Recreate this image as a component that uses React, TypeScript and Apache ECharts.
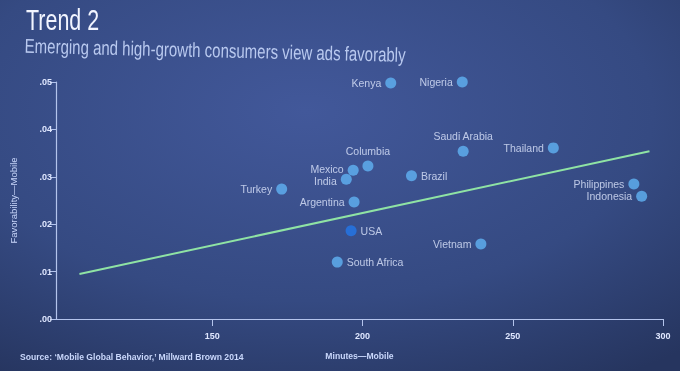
import React, { useEffect, useRef } from "react";
import * as echarts from "echarts";

const countries = ["Kenya", "Nigeria", "Saudi Arabia", "Thailand", "Columbia", "Mexico", "India", "Brazil", "Turkey", "Argentina", "USA", "South Africa", "Vietnam", "Philippines", "Indonesia"];
const minutes = [209.4, 233.2, 233.5, 263.5, 201.8, 196.9, 194.6, 216.3, 173.1, 197.2, 196.2, 191.6, 239.4, 290.3, 292.9];
const favorability = [0.0498, 0.05, 0.0354, 0.0361, 0.0323, 0.0314, 0.0295, 0.0302, 0.0274, 0.0247, 0.0186, 0.012, 0.0158, 0.0285, 0.0259];
const trendMinutes = [105.8, 295.5];
const trendFavorability = [0.0095, 0.0354];
const xTickValues = [150, 200, 250, 300];
const yTickLabels = [".00", ".01", ".02", ".03", ".04", ".05"];

const labelSide: Record<string, string> = {
  "Saudi Arabia": "top",
  Columbia: "top",
  Brazil: "right",
  USA: "right",
  "South Africa": "right",
};
const labelNudge: Record<string, number[]> = {
  Mexico: [0, -1.5],
  India: [0, 1.5],
};

const FONT = "'Liberation Sans', Arial, Helvetica, sans-serif";

export default function App() {
  const ref = useRef<HTMLDivElement>(null);
  useEffect(() => {
    document.body.style.margin = "0";
    const chart = echarts.init(ref.current!, null, { renderer: "svg" });
    const points = countries.map((name, i) => ({
      name,
      value: [minutes[i], favorability[i]],
      itemStyle: { color: name === "USA" ? "#2377ea" : "#60b3f4" },
      label: { position: labelSide[name] || "left", offset: labelNudge[name] || [0, 0] },
    }));
    chart.setOption({
      animation: false,
      backgroundColor: {
        type: "radial",
        x: 0.45,
        y: 0.3,
        r: 0.85,
        colorStops: [
          { offset: 0, color: "#42589a" },
          { offset: 0.6, color: "#354a82" },
          { offset: 1, color: "#26355f" },
        ],
      },
      textStyle: { fontFamily: FONT },
      graphic: [
        {
          type: "text",
          left: 26,
          top: 5,
          scaleX: 0.74,
          style: { text: "Trend 2", fill: "#f2f5ff", font: `29px ${FONT}` },
        },
        {
          type: "text",
          x: 25,
          y: 36,
          rotation: -0.024,
          scaleX: 0.75,
          style: { text: "Emerging and high-growth consumers view ads favorably", fill: "#b9c9ef", font: `20px ${FONT}` },
        },
        {
          type: "text",
          left: 20,
          top: 352,
          style: { text: "Source: \u2018Mobile Global Behavior,\u2019 Millward Brown 2014", fill: "#c9d7fb", font: `bold 8.6px ${FONT}` },
        },
      ],
      grid: { left: 51, right: 17, top: 82, bottom: 52 },
      xAxis: {
        type: "value",
        min: 98,
        max: 300,
        name: "Minutes\u2014Mobile",
        nameLocation: "middle",
        nameGap: 32,
        nameTextStyle: { color: "#c9d7fb", fontSize: 8.6, fontWeight: "bold", fontFamily: FONT },
        splitLine: { show: false },
        axisLine: { show: true, lineStyle: { color: "#b4c4ec", width: 1.2 } },
        axisTick: { show: true, length: 7, customValues: xTickValues, lineStyle: { color: "#b4c4ec" } },
        axisLabel: { customValues: xTickValues, color: "#dfe7ff", fontSize: 9, fontWeight: "bold", margin: 12, fontFamily: FONT },
      },
      yAxis: {
        type: "value",
        min: 0,
        max: 0.05,
        interval: 0.01,
        name: "Favorability\u2014Mobile",
        nameLocation: "middle",
        nameGap: 38,
        nameTextStyle: { color: "#c9d7fb", fontSize: 9.5, fontFamily: FONT },
        splitLine: { show: false },
        axisLine: { show: true, lineStyle: { color: "#b4c4ec", width: 1.2 } },
        axisTick: { show: true, length: 6, lineStyle: { color: "#b4c4ec" } },
        axisLabel: {
          color: "#dfe7ff",
          fontSize: 9,
          fontWeight: "bold",
          margin: 4,
          fontFamily: FONT,
          formatter: (v: number) => yTickLabels[Math.round(v * 100)] ?? "",
        },
      },
      series: [
        {
          type: "line",
          data: trendMinutes.map((m, i) => [m, trendFavorability[i]]),
          symbol: "none",
          lineStyle: { color: "#8fe3a4", width: 2 },
          silent: true,
          z: 1,
        },
        {
          type: "scatter",
          data: points,
          symbolSize: 11,
          z: 3,
          label: {
            show: true,
            formatter: "{b}",
            color: "#dde6fc",
            fontSize: 10.5,
            lineHeight: 11,
            distance: 4,
            fontFamily: FONT,
          },
        },
      ],
    });
    return () => chart.dispose();
  }, []);
  return <div ref={ref} style={{ position: "fixed", left: 0, top: 0, width: 680, height: 371 }} />;
}
